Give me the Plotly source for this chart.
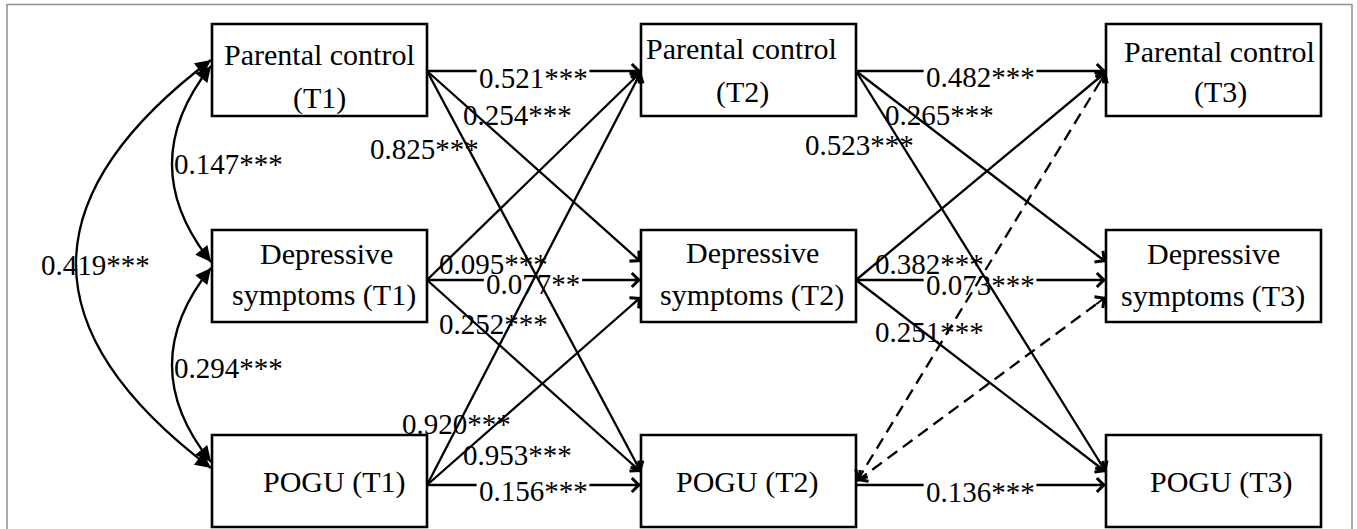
import numpy as np
import plotly.graph_objects as go

# ----------------------------- data -----------------------------
constructs = ["PC", "DS", "PG"]
waves = ["T1", "T2", "T3"]
box_text = {
    "PC": ["Parental control", "({w})"],
    "DS": ["Depressive", "symptoms ({w})"],
    "PG": ["POGU ({w})"],
}

# T1 -> T2 paths
src_12 = ["PC", "PC", "PC", "DS", "DS", "DS", "PG", "PG", "PG"]
dst_12 = ["PC", "DS", "PG", "PC", "DS", "PG", "PC", "DS", "PG"]
coef_12 = [0.521, 0.254, 0.825, 0.095, 0.077, 0.252, 0.920, 0.953, 0.156]
sig_12 = ["***", "***", "***", "***", "**", "***", "***", "***", "***"]

# T2 -> T3 paths (None = non-significant, drawn dashed)
src_23 = ["PC", "PC", "PC", "DS", "DS", "DS", "PG", "PG", "PG"]
dst_23 = ["PC", "DS", "PG", "PC", "DS", "PG", "PC", "DS", "PG"]
coef_23 = [0.482, 0.265, 0.523, 0.382, 0.073, 0.251, None, None, 0.136]
sig_23 = ["***", "***", "***", "***", "***", "***", "", "", "***"]

# T1 correlations
corr_a = ["PC", "DS", "PC"]
corr_b = ["DS", "PG", "PG"]
corr_T1 = [0.147, 0.294, 0.419]
corr_sig = ["***", "***", "***"]

# ----------------------------- layout geometry -----------------------------
W, H = 1357, 529
FONT = "Liberation Serif, Times New Roman, serif"
col_left = [212, 641, 1106]
col_w = 215
row_top = {"PC": 24, "DS": 230, "PG": 435}
row_h = 92
src_y = {"PC": 71, "DS": 280, "PG": 485}
dash_src_y = 481
LW = 2.3


def tgt_y(s, d):
    if s == d:
        return src_y[d]
    if d == "PC":
        return 72
    if d == "DS":
        return 262 if s == "PC" else 297
    return 472


text_pos = {
    ("PC", 0): [(319, 54), (319, 98)],
    ("PC", 1): [(741, 48), (742, 92)],
    ("PC", 2): [(1219, 51), (1220, 92)],
    ("DS", 0): [(326, 253), (324, 295)],
    ("DS", 1): [(752, 252), (752, 295)],
    ("DS", 2): [(1213, 253), (1213, 296)],
    ("PG", 0): [(334, 482)],
    ("PG", 1): [(747, 482)],
    ("PG", 2): [(1221, 482)],
}
lab_12 = [(533, 78), (517, 115), (424, 149), (493, 264), (533, 284),
          (493, 324), (456, 424), (517, 455), (533, 491)]
lab_23 = [(980, 77), (939, 115), (859, 145), (929, 264), (980, 285),
          (929, 332), None, None, (980, 492)]
corr_lab = [(228, 164), (228, 368), (95, 265)]
corr_geom = [((211, 66), (211, 262), (133, 164)),
             ((211, 268), (211, 462), (133, 365)),
             ((211, 60), (211, 468), (-59, 264))]

BOX_FS = 30
LAB_FS = 29

shapes_h, shapes_white, shapes_diag, shapes_box = [], [], [], []
ann_text, ann_lab, ann_head = [], [], []


def label_width(s, fs):
    w = 0
    for ch in s:
        w += 0.25 if ch == "." else 0.5
    return w * fs


def head(tip, frm, style="open", L=14):
    tip = np.array(tip, float)
    frm = np.array(frm, float)
    u = (tip - frm) / np.linalg.norm(tip - frm)
    start = tip - L * u
    if style == "open":
        ah, asz = 4, 1.35
    else:
        ah, asz = 2, 1.55
    ann_head.append(dict(x=tip[0], y=tip[1], ax=start[0], ay=start[1],
                         xref="x", yref="y", axref="x", ayref="y",
                         text="", showarrow=True, arrowhead=ah, arrowsize=asz,
                         arrowwidth=2, arrowcolor="black", standoff=0))


def add_paths(srcs, dsts, coefs, sigs, labs, c0):
    x0 = col_left[c0] + col_w
    x1 = col_left[c0 + 1]
    for s, d, v, sg, lp in zip(srcs, dsts, coefs, sigs, labs):
        if v is None:
            p0 = (x0 + 1, dash_src_y)
            p1 = (x1, tgt_y(s, d))
            shapes_diag.append(dict(type="line", x0=p0[0], y0=p0[1], x1=p1[0], y1=p1[1],
                                    xref="x", yref="y",
                                    line=dict(color="black", width=LW, dash="12px,7px")))
            head(p1, p0)
            head(p0, p1)
            continue
        p0 = (x0, src_y[s])
        p1 = (x1, tgt_y(s, d))
        ln = dict(type="line", x0=p0[0], y0=p0[1], x1=p1[0], y1=p1[1],
                  xref="x", yref="y", line=dict(color="black", width=LW))
        txt = f"{v:.3f}{sg}"
        if s == d:
            shapes_h.append(ln)
            w = label_width(txt, LAB_FS)
            shapes_white.append(dict(type="rect", x0=lp[0] - w / 2 - 2, x1=lp[0] + w / 2 + 2,
                                     y0=p0[1] - 4, y1=p0[1] + 4, xref="x", yref="y",
                                     line=dict(width=0), fillcolor="white"))
        else:
            shapes_diag.append(ln)
        head(p1, p0)
        ann_lab.append(dict(x=lp[0], y=lp[1], xref="x", yref="y", text=txt,
                            showarrow=False, xanchor="center", yanchor="middle",
                            font=dict(family=FONT, size=LAB_FS, color="black")))


add_paths(src_12, dst_12, coef_12, sig_12, lab_12, 0)
add_paths(src_23, dst_23, coef_23, sig_23, lab_23, 1)

# correlations (curved double-headed)
for (p0, p1, c), v, sg, lp in zip(corr_geom, corr_T1, corr_sig, corr_lab):
    shapes_diag.append(dict(type="path",
                            path=f"M {p0[0]},{p0[1]} Q {c[0]},{c[1]} {p1[0]},{p1[1]}",
                            xref="x", yref="y", line=dict(color="black", width=LW)))
    head(p0, c, style="filled", L=12)
    head(p1, c, style="filled", L=12)
    ann_lab.append(dict(x=lp[0], y=lp[1], xref="x", yref="y", text=f"{v:.3f}{sg}",
                        showarrow=False, xanchor="center", yanchor="middle",
                        font=dict(family=FONT, size=LAB_FS, color="black")))

# boxes and their text
for ci, w in enumerate(waves):
    for c in constructs:
        shapes_box.append(dict(type="rect", x0=col_left[ci], x1=col_left[ci] + col_w,
                               y0=row_top[c], y1=row_top[c] + row_h, xref="x", yref="y",
                               line=dict(color="black", width=2.6)))
        for line_txt, (tx, ty) in zip(box_text[c], text_pos[(c, ci)]):
            ann_text.append(dict(x=tx, y=ty, xref="x", yref="y", text=line_txt.format(w=w),
                                 showarrow=False, xanchor="center", yanchor="middle",
                                 font=dict(family=FONT, size=BOX_FS, color="black")))

frame = [dict(type="rect", x0=7, x1=1352, y0=4.5, y1=560, xref="x", yref="y",
              line=dict(color="#8f8f8f", width=1.5))]

fig = go.Figure()
fig.update_layout(
    width=W, height=H, autosize=False,
    margin=dict(l=0, r=0, t=0, b=0),
    paper_bgcolor="white", plot_bgcolor="white",
    xaxis=dict(range=[0, W], visible=False, fixedrange=True),
    yaxis=dict(range=[H, 0], visible=False, fixedrange=True),
    shapes=frame + shapes_h + shapes_white + shapes_diag + shapes_box,
    annotations=ann_text + ann_lab + ann_head,
    showlegend=False,
)

fig.write_html("out.html", config={"displayModeBar": False},
               post_script="document.body.style.margin='0';document.body.style.overflow='hidden';")
